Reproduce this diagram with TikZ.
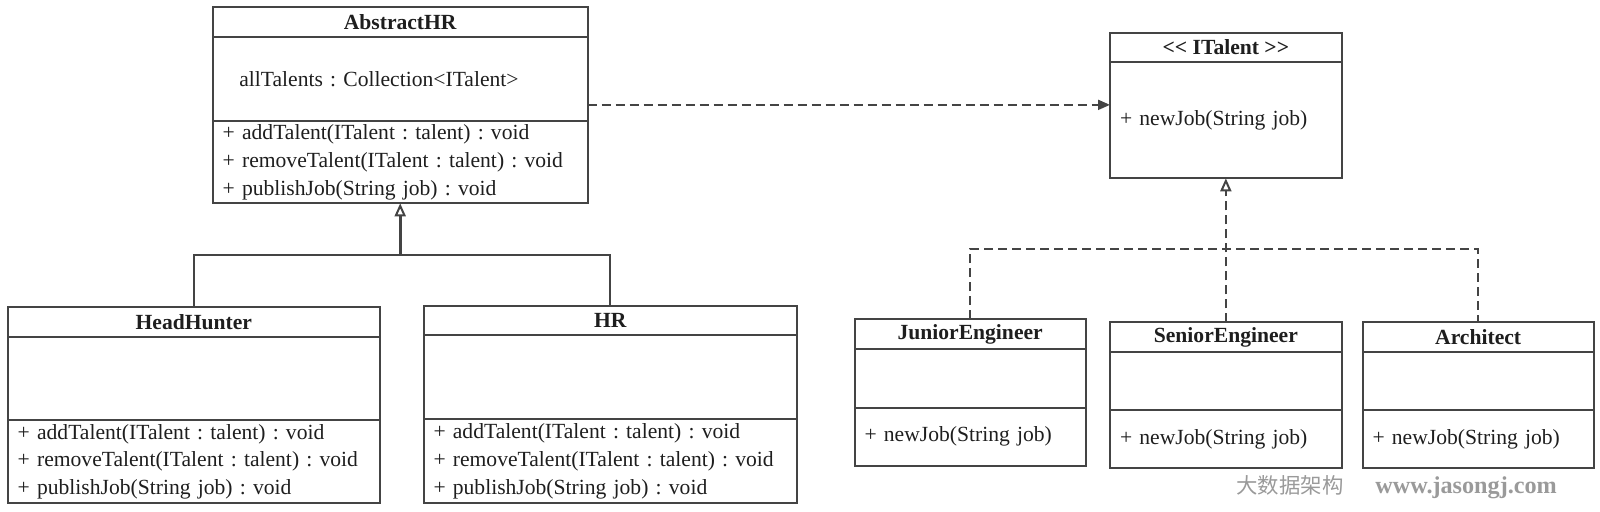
\documentclass[tikz,border=0pt]{standalone}
\usepackage{fontspec}
\setmainfont{Liberation Serif}
\newfontfamily\cjk{Noto Sans CJK SC}
\usetikzlibrary{arrows.meta,positioning}
\definecolor{umlline}{HTML}{444444}
\definecolor{umltext}{HTML}{1E1E1E}
\definecolor{marktext}{HTML}{9A9A9A}
\frenchspacing

\begin{document}
\begin{tikzpicture}[x=0.5pt, y=-0.5pt,
    font=\fontsize{10.8pt}{13.9pt}\selectfont,
    umlbox/.style={draw=umlline, line width=1pt, inner sep=0pt, outer sep=0pt, text=umltext},
    classname/.style={umlbox, font=\fontsize{10.8pt}{13pt}\selectfont\bfseries, anchor=north west},
    compart/.style={umlbox, inner xsep=5pt, align=left, below=0pt of #1},
    conn/.style={draw=umlline, line width=1pt},
    depline/.style={conn, dash pattern=on 4.5pt off 2.5pt},
    inherit/.style={conn, line width=1.4pt, -{Triangle[open, length=6.5pt, width=5.5pt, line width=1pt]}},
    realize/.style={depline, -{Triangle[open, length=6.5pt, width=5.5pt, line width=1pt]}},
    uses/.style={depline, -{Triangle[length=6pt, width=5pt]}}]
    \useasboundingbox (0,0) rectangle (1600,511);

    % interface
    \node[classname, minimum width=115.85pt, minimum height=14.5pt] (italent) at (1110,32.7) {<\kern0pt< ITalent >\kern0pt>};
    \node[compart=italent, minimum width=115.85pt, minimum height=58.3pt, text width=105.85pt] (italent-body) {+ newJob(String job)};

    % abstract HR
    \node[classname, minimum width=187.5pt, minimum height=14.7pt] (abshr) at (212.7,7.3) {AbstractHR};
    \node[compart=abshr, minimum width=187.5pt, minimum height=42.15pt, text width=177.5pt] (abshr-attr) {\hspace*{8.3pt}allTalents : Collection<ITalent>};
    \node[compart=abshr-attr, minimum width=187.5pt, minimum height=41.15pt, text width=177.5pt] (abshr-meth) {+ addTalent(ITalent : talent) : void\\+ removeTalent(ITalent : talent) : void\\+ publishJob(String job) : void};

    % HR subclasses
    \node[classname, minimum width=186.15pt, minimum height=14.7pt] (headhunter) at (7.7,307.3) {HeadHunter};
    \node[compart=headhunter, minimum width=186.15pt, minimum height=41.65pt] (headhunter-attr) {};
    \node[compart=headhunter-attr, minimum width=186.15pt, minimum height=41.65pt, text width=176.15pt] (headhunter-meth) {+ addTalent(ITalent : talent) : void\\+ removeTalent(ITalent : talent) : void\\+ publishJob(String job) : void};

    \node[classname, minimum width=186.75pt, minimum height=14.5pt] (hr) at (423.5,306) {HR};
    \node[compart=hr, minimum width=186.75pt, minimum height=42.15pt] (hr-attr) {};
    \node[compart=hr-attr, minimum width=186.75pt, minimum height=41.85pt, text width=176.75pt] (hr-meth) {+ addTalent(ITalent : talent) : void\\+ removeTalent(ITalent : talent) : void\\+ publishJob(String job) : void};

    % talents
    \node[classname, minimum width=115.65pt, minimum height=15pt] (junior) at (854.5,319) {JuniorEngineer};
    \node[compart=junior, minimum width=115.65pt, minimum height=29.35pt] (junior-attr) {};
    \node[compart=junior-attr, minimum width=115.65pt, minimum height=29pt, text width=105.65pt] (junior-meth) {+ newJob(String job)};

    \node[classname, minimum width=115.85pt, minimum height=14.7pt] (senior) at (1110,322.3) {SeniorEngineer};
    \node[compart=senior, minimum width=115.85pt, minimum height=29.15pt] (senior-attr) {};
    \node[compart=senior-attr, minimum width=115.85pt, minimum height=29.15pt, text width=105.85pt] (senior-meth) {+ newJob(String job)};

    \node[classname, minimum width=115.65pt, minimum height=14.7pt] (architect) at (1362.5,322.3) {Architect};
    \node[compart=architect, minimum width=115.65pt, minimum height=29.15pt] (architect-attr) {};
    \node[compart=architect-attr, minimum width=115.65pt, minimum height=29.15pt, text width=105.65pt] (architect-meth) {+ newJob(String job)};

    % connectors
    \coordinate (usesrc) at ([yshift=-13pt]abshr-attr.east);
    \draw[uses] (usesrc) -- (usesrc -| italent-body.west);

    \coordinate[below=25.85pt of abshr-meth.south] (genjoin);
    \draw[conn] (headhunter.north) |- (genjoin) -| (hr.north);
    \draw[inherit] (genjoin) -- (abshr-meth.south);

    \coordinate[below=35.35pt of italent-body.south] (impljoin);
    \draw[depline] (junior.north) |- (impljoin) -| (architect.north);
    \draw[realize] (senior.north) -- (italent-body.south);

    \node[anchor=west, text=marktext, inner sep=0pt] (mark) at (1236,487) {{\cjk\fontsize{10.7pt}{12pt}\selectfont 大数据架构}\hspace{16pt}{\fontsize{12.1pt}{13pt}\selectfont\bfseries www.jasongj.com}};
\end{tikzpicture}
\end{document}
